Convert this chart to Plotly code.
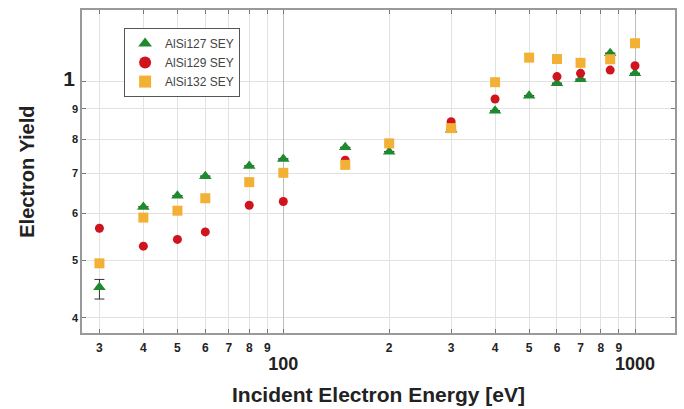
import plotly.graph_objects as go

energy = [30, 40, 50, 60, 80, 100, 150, 200, 300, 400, 500, 600, 700, 850, 1000]
alsi127 = [0.450, 0.615, 0.642, 0.693, 0.721, 0.741, 0.775, 0.762, 0.830, 0.893, 0.947, 0.994, 1.010, 1.117, 1.033]
alsi129 = [0.566, 0.528, 0.542, 0.558, 0.619, 0.628, 0.737, 0.785, 0.856, 0.935, None, 1.020, 1.033, 1.046, 1.064]
alsi132 = [0.494, 0.590, 0.606, 0.636, 0.677, 0.702, 0.724, 0.787, 0.835, 0.998, 1.098, 1.092, 1.076, 1.091, 1.161]
err127_plus = [0.014] + [0] * 14
err127_minus = [0.020] + [0] * 14

x_tickvals = [30, 40, 50, 60, 70, 80, 90, 100, 200, 300, 400, 500, 600, 700, 800, 900, 1000]
x_ticktext = ["3", "4", "5", "6", "7", "8", "9", "100", "2", "3", "4", "5", "6", "7", "8", "9", "1000"]
y_tickvals = [0.4, 0.5, 0.6, 0.7, 0.8, 0.9, 1.0]
y_ticktext = ["4", "5", "6", "7", "8", "9", "1"]

def fmt_x(t):
    if len(t) > 1:
        return "<br><span style='font-size:18px'><b>%s</b></span>" % t
    return "<span style='font-size:12px'><b>%s</b></span>" % t

def fmt_y(t):
    if t == "1":
        return "<span style='font-size:21px'><b>%s</b></span>&nbsp;" % t
    return "<b>%s</b>" % t

fig = go.Figure()
fig.add_trace(go.Scatter(
    x=energy, y=alsi127, mode="markers", name="AlSi127 SEY",
    marker=dict(symbol="triangle-up", size=11, color="#1e8a2e"),
    error_y=dict(type="data", symmetric=False, array=err127_plus, arrayminus=err127_minus,
                 color="#333333", thickness=1, width=5),
))
fig.add_trace(go.Scatter(
    x=energy, y=alsi129, mode="markers", name="AlSi129 SEY",
    marker=dict(symbol="circle", size=9, color="#d0141e"),
))
fig.add_trace(go.Scatter(
    x=energy, y=alsi132, mode="markers", name="AlSi132 SEY",
    marker=dict(symbol="square", size=10, color="#f2b134"),
))
fig.add_trace(go.Scatter(x=[], y=[], xaxis="x2", showlegend=False, hoverinfo="skip"))

fig.update_layout(
    width=684, height=409,
    margin=dict(l=82, r=9, t=10, b=76),
    paper_bgcolor="white", plot_bgcolor="white",
    font=dict(family="Liberation Sans, Arial, sans-serif", color="#222222"),
    showlegend=True,
    legend=dict(x=0.071, y=0.944, xanchor="left", yanchor="top",
                bordercolor="#555555", borderwidth=1, bgcolor="white",
                font=dict(size=12, color="#444444"),
                tracegroupgap=0, itemsizing="constant", itemwidth=30),
    xaxis=dict(type="log", range=[1.4276, 3.1137], automargin=False, tickangle=0,
               tickmode="array", tickvals=x_tickvals,
               ticktext=[fmt_x(t) for t in x_ticktext],
               tickfont=dict(size=14, color="#222222"),
               showgrid=True, gridcolor="#e2e2e2", gridwidth=1,
               showline=True, linecolor="#999999", linewidth=1.5, mirror="ticks",
               ticks="inside", ticklen=4, tickcolor="#777777",
               zeroline=False),
    xaxis2=dict(type="log", range=[1.4276, 3.1137], overlaying="x", automargin=False,
                tickmode="array", tickvals=[100, 1000], showticklabels=False,
                showgrid=True, gridcolor="#bdbdbd", gridwidth=1, ticks=""),
    yaxis=dict(type="log", range=[-0.4238, 0.1209], automargin=False,
               tickmode="array", tickvals=y_tickvals,
               ticktext=[fmt_y(t) for t in y_ticktext],
               tickfont=dict(size=11, color="#222222"),
               showgrid=True, gridcolor="#e2e2e2", gridwidth=1,
               showline=True, linecolor="#999999", linewidth=1.5, mirror="ticks",
               ticks="inside", ticklen=4, tickcolor="#777777",
               zeroline=False),
    annotations=[
        dict(text="<b>Incident Electron Energy [eV]</b>", xref="paper", yref="paper",
             x=0.5, y=-0.19, xanchor="center", yanchor="middle", showarrow=False,
             font=dict(size=21, color="#222222")),
        dict(text="<b>Electron Yield</b>", xref="paper", yref="paper",
             x=-0.094, y=0.5, xanchor="center", yanchor="middle", showarrow=False,
             textangle=-90, font=dict(size=20, color="#222222")),
    ],
)

fig.write_html("out.html", config={"displayModeBar": False},
               post_script="document.body.style.margin='0px';")
